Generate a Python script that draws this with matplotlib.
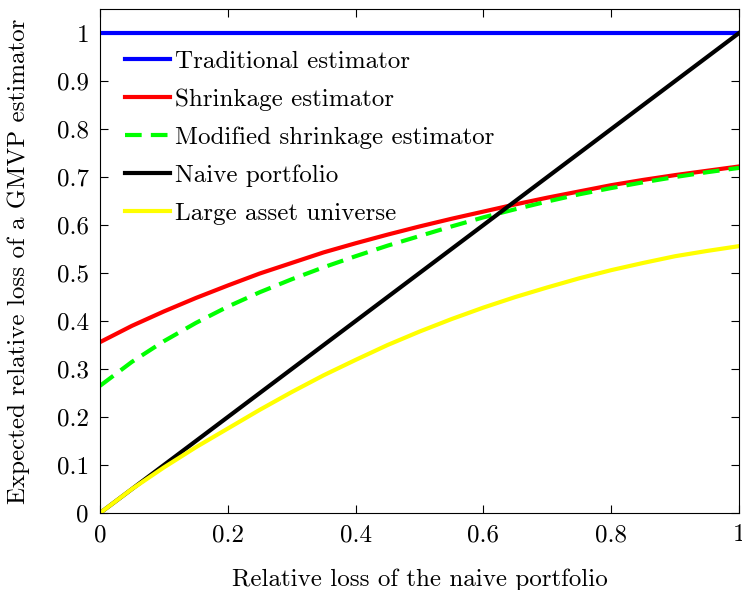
import matplotlib
matplotlib.use("Agg")
import matplotlib.pyplot as plt
import numpy as np

plt.rcParams['font.family'] = 'serif'
plt.rcParams['font.serif'] = ['cmr10', 'DejaVu Serif']
plt.rcParams['axes.formatter.use_mathtext'] = True
plt.rcParams['mathtext.fontset'] = 'cm'

# relative loss of the naive portfolio
x = [0.0, 0.05, 0.1, 0.15, 0.2, 0.25, 0.3, 0.35, 0.4, 0.45, 0.5,
     0.55, 0.6, 0.65, 0.7, 0.75, 0.8, 0.85, 0.9, 0.95, 1.0]

traditional = [1.0] * len(x)
shrinkage = [0.356, 0.39, 0.42, 0.448, 0.474, 0.499, 0.521, 0.543, 0.562, 0.58, 0.597,
             0.613, 0.628, 0.643, 0.657, 0.67, 0.683, 0.694, 0.704, 0.713, 0.722]
modified = [0.265, 0.315, 0.358, 0.396, 0.43, 0.46, 0.487, 0.512, 0.535, 0.557, 0.577,
            0.597, 0.616, 0.633, 0.649, 0.664, 0.677, 0.689, 0.7, 0.71, 0.719]
naive = x
large_universe = [0.0, 0.05, 0.095, 0.137, 0.176, 0.215, 0.252, 0.287, 0.319, 0.35, 0.378,
                  0.404, 0.428, 0.45, 0.47, 0.489, 0.506, 0.521, 0.535, 0.546, 0.556]

labels = ['Traditional estimator', 'Shrinkage estimator', 'Modified shrinkage estimator',
          'Naive portfolio', 'Large asset universe']

fig = plt.figure(figsize=(7.42, 5.9), dpi=100)
ax = fig.add_axes([0.1348, 0.1305, 0.8612, 0.8542])

ax.plot(x, traditional, color='#0000ff', lw=3, label=labels[0])
ax.plot(x, shrinkage, color='#ff0000', lw=3, label=labels[1])
ax.plot(x, modified, color='#00ff00', lw=3, ls=(0, (4, 2.2)), label=labels[2])
ax.plot(x, naive, color='black', lw=3, label=labels[3])
ax.plot(x, large_universe, color='#ffff00', lw=3, label=labels[4])

ax.set_xlim(0, 1)
ax.set_ylim(0, 1.05)
ax.set_xticks([0, 0.2, 0.4, 0.6, 0.8, 1])
ax.set_xticklabels(['0', '0.2', '0.4', '0.6', '0.8', '1'])
ax.set_yticks(np.arange(0, 11) / 10)
ax.set_yticklabels(['0', '0.1', '0.2', '0.3', '0.4', '0.5', '0.6', '0.7', '0.8', '0.9', '1'])
ax.tick_params(direction='in', top=True, right=True, labelsize=18, length=6, pad=8)

ax.set_xlabel('Relative loss of the naive portfolio', fontsize=18, labelpad=16)
ax.set_ylabel('Expected relative loss of a GMVP estimator', fontsize=18, labelpad=19)

ax.legend(loc='upper left', bbox_to_anchor=(0.0, 0.967), frameon=False, fontsize=18,
          handlelength=1.8, handletextpad=0.2, labelspacing=0.62, borderaxespad=0.6)

fig.savefig('out.png', dpi=100)
